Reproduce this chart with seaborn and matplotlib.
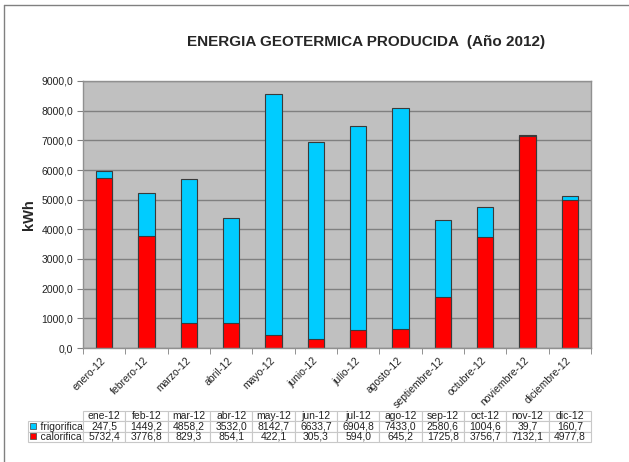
import matplotlib
matplotlib.use("Agg")
import matplotlib.pyplot as plt
import pandas as pd
import seaborn as sns
from matplotlib.lines import Line2D
from matplotlib.patches import Rectangle
from matplotlib.ticker import FuncFormatter, FixedLocator

months_long = ["enero-12", "febrero-12", "marzo-12", "abril-12", "mayo-12", "junio-12",
               "julio-12", "agosto-12", "septiembre-12", "octubre-12", "noviembre-12", "diciembre-12"]
months_short = ["ene-12", "feb-12", "mar-12", "abr-12", "may-12", "jun-12",
                "jul-12", "ago-12", "sep-12", "oct-12", "nov-12", "dic-12"]
frigorifica = [247.5, 1449.2, 4858.2, 3532.0, 8142.7, 6633.7, 6904.8, 7433.0, 2580.6, 1004.6, 39.7, 160.7]
calorifica = [5732.4, 3776.8, 829.3, 854.1, 422.1, 305.3, 594.0, 645.2, 1725.8, 3756.7, 7132.1, 4977.8]

CYAN = "#00CCFF"
RED = "#FF0000"

df = pd.DataFrame({"mes": months_long, "frigorifica": frigorifica, "calorifica": calorifica})
df["total"] = df["frigorifica"] + df["calorifica"]

sns.set_style("white")
plt.rcParams["font.family"] = ["Liberation Sans", "DejaVu Sans"]

W, H = 629, 462
fig = plt.figure(figsize=(W / 100, H / 100), dpi=100)

# plot area in pixel coords of the reference
px_l, px_r, px_t, px_b = 83, 591, 81, 348
ax = fig.add_axes([px_l / W, 1 - px_b / H, (px_r - px_l) / W, (px_b - px_t) / H])
ax.set_facecolor("#C0C0C0")

# stacked: total in cyan, calorifica drawn over it in red
sns.barplot(data=df, x="mes", y="total", color=CYAN, saturation=1, width=0.39,
            edgecolor="#3a3a3a", linewidth=0.8, ax=ax)
sns.barplot(data=df, x="mes", y="calorifica", color=RED, saturation=1, width=0.39,
            edgecolor="#3a3a3a", linewidth=0.8, ax=ax)

ax.set_xlim(-0.5, len(months_long) - 0.5)
ax.set_ylim(0, 9000)
ax.set_yticks(range(0, 9001, 1000))
ax.yaxis.set_major_formatter(FuncFormatter(lambda v, _: f"{v:.1f}".replace(".", ",")))
ax.yaxis.grid(True, color="#808080", lw=1)
ax.set_axisbelow(True)

for s in ax.spines.values():
    s.set_color("#909090")
    s.set_linewidth(1)

ax.tick_params(axis="y", which="major", length=4, color="#808080", labelsize=7.5,
               labelcolor="#222222", pad=3, left=True)
ax.tick_params(axis="x", which="major", length=0, labelsize=7.5, labelcolor="#222222", pad=8)
ax.xaxis.set_minor_locator(FixedLocator([i - 0.5 for i in range(len(months_long) + 1)]))
ax.tick_params(axis="x", which="minor", length=4, color="#808080", bottom=True)
ax.set_xticks(range(len(months_long)))
ax.set_xticklabels(months_long, rotation=45, ha="right", va="center", rotation_mode="anchor")
ax.set_xlabel("")
ax.set_ylabel("kWh", fontsize=10.5, fontweight="bold", labelpad=4)

fig.text(366 / W, 1 - 42 / H, "ENERGIA GEOTERMICA PRODUCIDA  (Año 2012)", ha="center",
         va="center", fontsize=11, fontweight="bold")

# data table under the chart
tab_l, tab_r, tab_t, tab_b = 28, 591, 411, 442
lab_w = px_l - tab_l
col_w = (px_r - px_l) / len(months_short)
fmt = lambda v: f"{v:.1f}".replace(".", ",")
cell_text = [[""] + months_short,
             ["    frigorifica"] + [fmt(v) for v in frigorifica],
             ["    calorifica"] + [fmt(v) for v in calorifica]]
ax_w, ax_h = px_r - px_l, px_b - px_t
tbl = ax.table(cellText=cell_text, cellLoc="center",
               colWidths=[lab_w] + [col_w] * len(months_short),
               bbox=[(tab_l - px_l) / ax_w, (px_b - tab_b) / ax_h,
                     (tab_r - tab_l) / ax_w, (tab_b - tab_t) / ax_h])
tbl.auto_set_font_size(False)
tbl.set_fontsize(7.5)
for (r, c), cell in tbl.get_celld().items():
    cell.set_edgecolor("#C8C8C8")
    cell.set_linewidth(0.8)
    cell.get_text().set_color("#222222")
    if c == 0:
        cell.get_text().set_ha("left")
        cell._loc = "left"
        cell.PAD = 0.02
tbl[0, 0].visible_edges = ""

# legend keys inside the table
for row_y, col in [(426, CYAN), (436, RED)]:
    fig.add_artist(Rectangle(((tab_l + 2) / W, 1 - (row_y + 3) / H), 6 / W, 6 / H,
                             transform=fig.transFigure, facecolor=col,
                             edgecolor="#555555", lw=0.6))

# frame of the screenshot
fig.add_artist(Line2D([4 / W, 4 / W], [0, 1 - 5 / H], transform=fig.transFigure,
                      color="#808080", lw=1))
fig.add_artist(Line2D([4 / W, 1], [1 - 5 / H, 1 - 5 / H], transform=fig.transFigure,
                      color="#808080", lw=1))

fig.savefig("out.png", dpi=100)
